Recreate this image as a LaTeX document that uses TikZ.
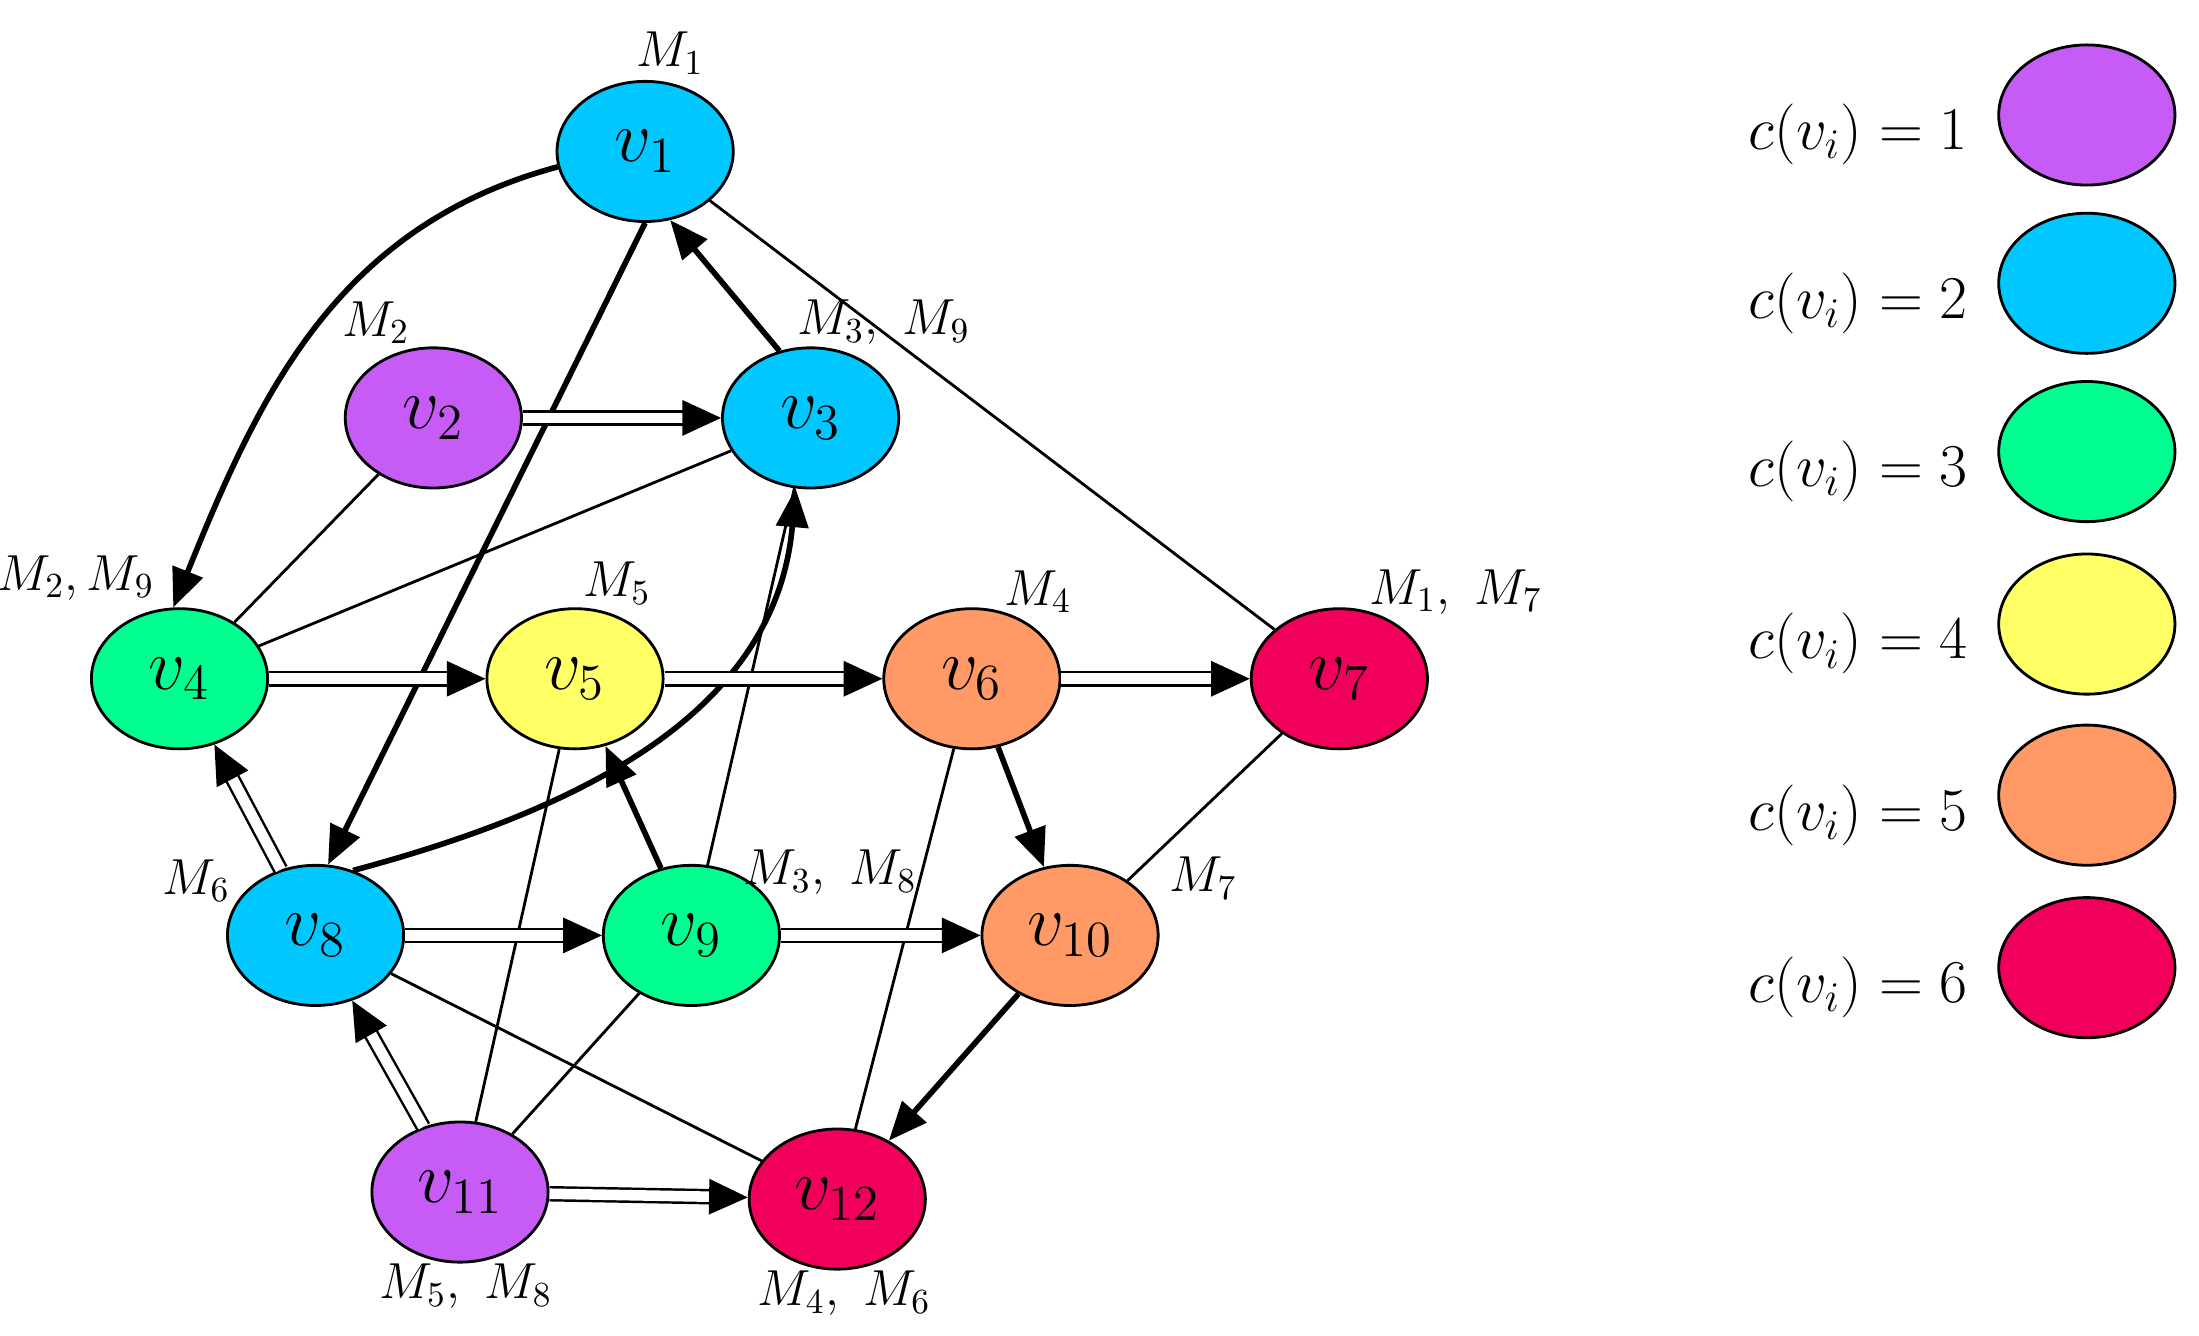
\documentclass[tikz,border=0pt]{standalone}
\usetikzlibrary{arrows.meta,shapes.geometric}
\definecolor{cP}{HTML}{C65BF6}
\definecolor{cB}{HTML}{00C8FF}
\definecolor{cG}{HTML}{00FF90}
\definecolor{cY}{HTML}{FFFF66}
\definecolor{cO}{HTML}{FF9966}
\definecolor{cR}{HTML}{F0005A}
\begin{document}
\begin{tikzpicture}[x=0.014cm,y=-0.014cm,
  v/.style={ellipse,draw,line width=0.8pt,minimum width=1.76cm,minimum height=1.4cm,inner sep=0pt,font=\fontsize{22}{26}\selectfont},
  lg/.style={v},
  ml/.style={font=\fontsize{14}{17}\selectfont},
  thin/.style={line width=0.8pt},
  thk/.style={line width=1.6pt,-{Triangle[length=11pt,width=9pt]}},
  dbl/.style={double,double distance=3pt,line width=0.7pt,-{Triangle[length=11pt,width=10pt]}}]
\useasboundingbox (0,0) rectangle (1568,952.6);
\node[v,fill=cB] (v1) at (460,108) {$v_1$};
\node[v,fill=cP] (v2) at (309,298) {$v_2$};
\node[v,fill=cB] (v3) at (578,298) {$v_3$};
\node[v,fill=cG] (v4) at (128,484) {$v_4$};
\node[v,fill=cY] (v5) at (410,484) {$v_5$};
\node[v,fill=cO] (v6) at (693,484) {$v_6$};
\node[v,fill=cR] (v7) at (955,484) {$v_7$};
\node[v,fill=cB] (v8) at (225,667) {$v_8$};
\node[v,fill=cG] (v9) at (493,667) {$v_9$};
\node[v,fill=cO] (v10) at (763,667) {$v_{10}$};
\node[v,fill=cP] (v11) at (328,850) {$v_{11}$};
\node[v,fill=cR] (v12) at (597,855) {$v_{12}$};
% labels
\node[ml] (m1) at (478,38) {$M_1$};
\node[ml] (m2) at (268,230) {$M_2$};
\node[ml] (m3) at (630,230) {$M_3,\ M_9$};
\node[ml] (m4) at (54,412) {$M_2,M_9$};
\node[ml] (m5) at (440,416) {$M_5$};
\node[ml] (m6) at (740,422) {$M_4$};
\node[ml] (m7) at (1038,422) {$M_1,\ M_7$};
\node[ml] (m8) at (140,628) {$M_6$};
\node[ml] (m9) at (592,622) {$M_3,\ M_8$};
\node[ml] (m10) at (858,626) {$M_7$};
\node[ml] (m11) at (332,917) {$M_5,\ M_8$};
\node[ml] (m12) at (602,922) {$M_4,\ M_6$};
% thin
\draw[thin] (v1) -- (v7);
\draw[thin] (v2) -- (v4);
\draw[thin] (v3) -- (v4);
\draw[thin] (v3) -- (v9);
\draw[thin] (v7) -- (v10);
\draw[thin] (v11) -- (v5);
\draw[thin] (v11) -- (v9);
\draw[thin] (v8) -- (v12);
\draw[thin] (v6) -- (v12);
% thick
\draw[thk] (v1.190) to[out=195,in=68] (v4.95);
\draw[thk] (v1.270) -- (v8.80);
\draw[thk] (v3.115) -- (v1.290);
\draw[thk] (v6) -- (v10);
\draw[thk] (v9) -- (v5);
\draw[thk] (v10) -- (v12);
\draw[thk] (v8.60) to[out=15,in=-95] (v3.258);
% double
\draw[dbl] (v2) -- (v3);
\draw[dbl] (v4) -- (v5);
\draw[dbl] (v5) -- (v6);
\draw[dbl] (v6) -- (v7);
\draw[dbl] (v8) -- (v4);
\draw[dbl] (v8) -- (v9);
\draw[dbl] (v9) -- (v10);
\draw[dbl] (v11) -- (v8);
\draw[dbl] (v11) -- (v12);
% legend
\foreach \i/\c/\y in {1/cP/82,2/cB/202,3/cG/322,4/cY/445,5/cO/567,6/cR/690}{
  \node[lg,fill=\c] (L\i) at (1488,\y) {};
  \node[font=\fontsize{17}{20}\selectfont] (T\i) at (1325,\y+14) {$c(v_i)=\i$};
}
\end{tikzpicture}
\end{document}
